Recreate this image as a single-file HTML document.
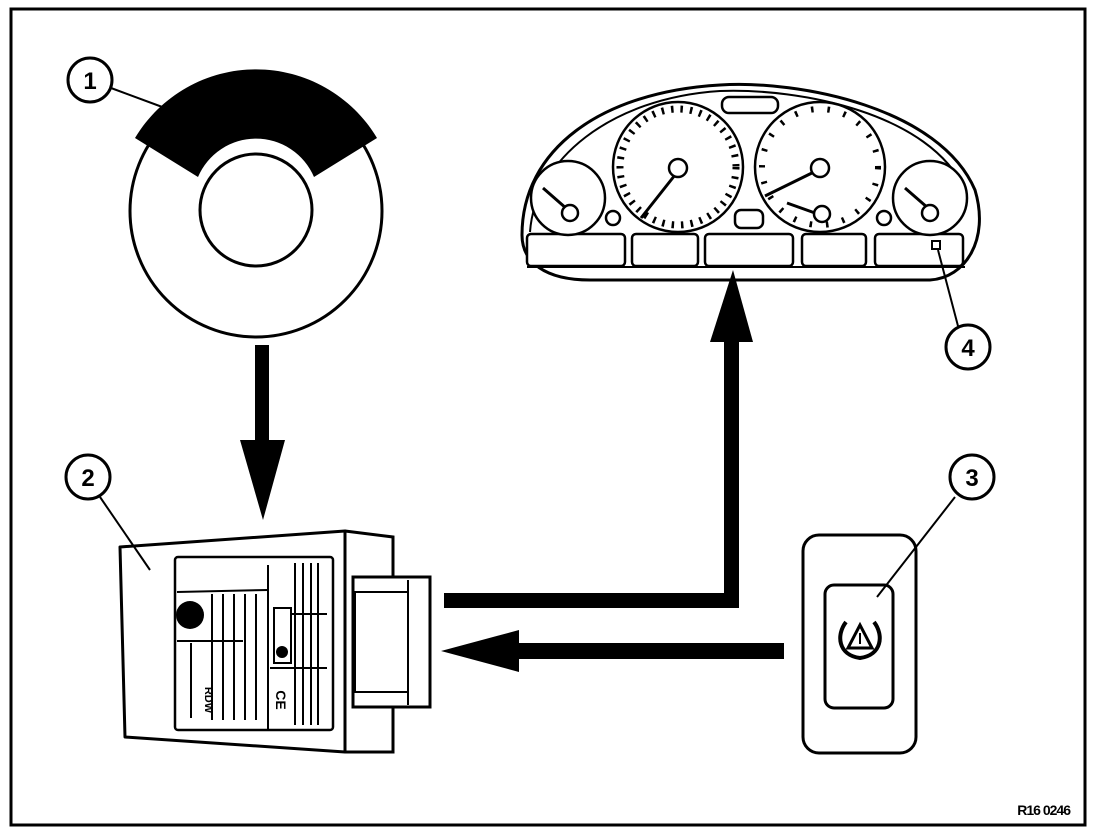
<!DOCTYPE html>
<html><head><style>
html,body{margin:0;padding:0;background:#fff;}
svg{display:block;}
text{font-family:"Liberation Sans",sans-serif;font-weight:bold;}
</style></head><body>
<svg width="1120" height="840" viewBox="0 0 1120 840" xmlns="http://www.w3.org/2000/svg">
<rect x="11" y="9" width="1074" height="816" fill="none" stroke="#000" stroke-width="3"/>

<!-- Wheel 1 -->
<circle cx="256" cy="211" r="126" fill="none" stroke="#000" stroke-width="3"/>
<path d="M135,138 A141,141 0 0 1 377,138 L314,177 A63,63 0 0 0 198,177 Z" fill="#000"/>
<circle cx="256" cy="210" r="56" fill="none" stroke="#000" stroke-width="3"/>
<circle cx="90" cy="80" r="22" fill="#fff" stroke="#000" stroke-width="3"/>
<text x="90" y="89" font-size="24" text-anchor="middle">1</text>
<line x1="111" y1="88" x2="165" y2="108" stroke="#000" stroke-width="2"/>

<!-- Down arrow -->
<rect x="255" y="345" width="14" height="100" fill="#000"/>
<polygon points="240,440 285,440 263,520" fill="#000"/>

<!-- Module 2 -->
<circle cx="88" cy="477" r="22" fill="#fff" stroke="#000" stroke-width="3"/>
<text x="88" y="486" font-size="24" text-anchor="middle">2</text>
<line x1="100" y1="497" x2="150" y2="570" stroke="#000" stroke-width="2"/>
<path d="M120,547 L345,531 L345,752 L125,737 Z" fill="none" stroke="#000" stroke-width="3" stroke-linejoin="round"/>
<path d="M345,531 L393,537 L393,578 M393,706 L393,752 L345,752" fill="none" stroke="#000" stroke-width="3"/>
<rect x="353" y="577" width="77" height="130" fill="#fff" stroke="#000" stroke-width="3"/>
<rect x="355" y="592" width="53" height="100" fill="none" stroke="#000" stroke-width="2"/>
<line x1="408" y1="580" x2="408" y2="705" stroke="#000" stroke-width="2"/>
<rect x="175" y="557" width="158" height="173" rx="3" fill="none" stroke="#000" stroke-width="2.5"/>
<line x1="177" y1="592" x2="268" y2="590" stroke="#000" stroke-width="2"/>
<line x1="268" y1="565" x2="268" y2="730" stroke="#000" stroke-width="2"/>
<g stroke="#000" stroke-width="2">
<line x1="212" y1="594" x2="212" y2="720"/><line x1="223" y1="594" x2="223" y2="720"/><line x1="234" y1="594" x2="234" y2="720"/><line x1="245" y1="594" x2="245" y2="720"/><line x1="256" y1="594" x2="256" y2="720"/>
<line x1="177" y1="641" x2="243" y2="641"/>
<line x1="191" y1="643" x2="191" y2="718"/>
<line x1="295" y1="563" x2="295" y2="725"/><line x1="303" y1="563" x2="303" y2="725"/><line x1="311" y1="563" x2="311" y2="725"/><line x1="318" y1="563" x2="318" y2="725"/>
<line x1="290" y1="614" x2="327" y2="614"/><line x1="270" y1="668" x2="327" y2="668"/>
</g>
<circle cx="190" cy="615" r="14" fill="#000"/>
<rect x="274" y="608" width="17" height="55" fill="none" stroke="#000" stroke-width="2"/>
<circle cx="282" cy="652" r="6" fill="#000"/>
<text x="0" y="0" font-size="11" transform="translate(205,700) rotate(90)" text-anchor="middle">RDW</text>
<text x="0" y="0" font-size="14" transform="translate(276,700) rotate(90)" text-anchor="middle">CE</text>

<!-- Connectors -->
<rect x="444" y="593" width="295" height="15" fill="#000"/>
<rect x="724" y="335" width="15" height="273" fill="#000"/>
<polygon points="710,342 753,342 733,270" fill="#000"/>
<rect x="515" y="643" width="269" height="16" fill="#000"/>
<polygon points="441,651 519,630 519,672" fill="#000"/>

<!-- Cluster -->
<path d="M522,235 C522,150 600,92 720,85 C800,80 940,108 975,190 C990,240 965,278 930,280 L590,280 C545,280 522,262 522,235 Z" fill="none" stroke="#000" stroke-width="3"/>
<path d="M530,232 C535,160 610,98 720,91 C800,88 930,113 965,190" fill="none" stroke="#000" stroke-width="2"/>
<line x1="527" y1="267" x2="965" y2="267" stroke="#000" stroke-width="2"/>
<g fill="#fff" stroke="#000" stroke-width="2.5">
<rect x="527" y="234" width="98" height="32" rx="4"/>
<rect x="632" y="234" width="66" height="32" rx="4"/>
<rect x="705" y="234" width="88" height="32" rx="4"/>
<rect x="802" y="234" width="64" height="32" rx="4"/>
<rect x="875" y="234" width="88" height="32" rx="4"/>
<circle cx="568" cy="198" r="37"/>
<circle cx="678" cy="167" r="65"/>
<circle cx="820" cy="167" r="65"/>
<circle cx="930" cy="198" r="37"/>
<rect x="722" y="97" width="56" height="16" rx="7"/>
<rect x="735" y="210" width="28" height="18" rx="6"/>
<circle cx="613" cy="218" r="7"/>
<circle cx="884" cy="218" r="7"/>
</g>
<g stroke="#000" fill="none">
<circle cx="678" cy="167" r="58" stroke-width="7" stroke-dasharray="2.5 7"/>
<circle cx="820" cy="167" r="58" stroke-width="6" stroke-dasharray="2.5 14"/>
</g>
<g stroke="#000" stroke-width="3" fill="none">
<line x1="543" y1="188" x2="567" y2="209"/>
<line x1="641" y1="218" x2="675" y2="175"/>
<line x1="765" y1="196" x2="818" y2="170"/>
<line x1="787" y1="203" x2="815" y2="213"/>
<line x1="905" y1="188" x2="928" y2="208"/>
</g>
<g fill="#fff" stroke="#000" stroke-width="2.5">
<circle cx="570" cy="213" r="8"/>
<circle cx="678" cy="168" r="9"/>
<circle cx="820" cy="168" r="9"/>
<circle cx="822" cy="214" r="8"/>
<circle cx="930" cy="213" r="8"/>
</g>
<rect x="932" y="241" width="8" height="8" fill="#fff" stroke="#000" stroke-width="2"/>
<circle cx="968" cy="347" r="22" fill="#fff" stroke="#000" stroke-width="3"/>
<text x="968" y="356" font-size="24" text-anchor="middle">4</text>
<line x1="958" y1="326" x2="938" y2="250" stroke="#000" stroke-width="2"/>

<!-- Switch 3 -->
<rect x="803" y="535" width="113" height="218" rx="16" fill="#fff" stroke="#000" stroke-width="3"/>
<rect x="825" y="585" width="68" height="123" rx="9" fill="none" stroke="#000" stroke-width="3"/>
<path d="M846,622 C836,635 838,655 860,658 C882,655 884,635 874,622" fill="none" stroke="#000" stroke-width="4"/>
<polygon points="860,625 848,648 872,648" fill="none" stroke="#000" stroke-width="3"/>
<line x1="860" y1="633" x2="860" y2="644" stroke="#000" stroke-width="2"/>
<circle cx="972" cy="477" r="22" fill="#fff" stroke="#000" stroke-width="3"/>
<text x="972" y="486" font-size="24" text-anchor="middle">3</text>
<line x1="955" y1="497" x2="877" y2="597" stroke="#000" stroke-width="2"/>

<text x="1070" y="815" font-size="14" text-anchor="end" letter-spacing="-1">R16 0246</text>
</svg>
</body></html>
